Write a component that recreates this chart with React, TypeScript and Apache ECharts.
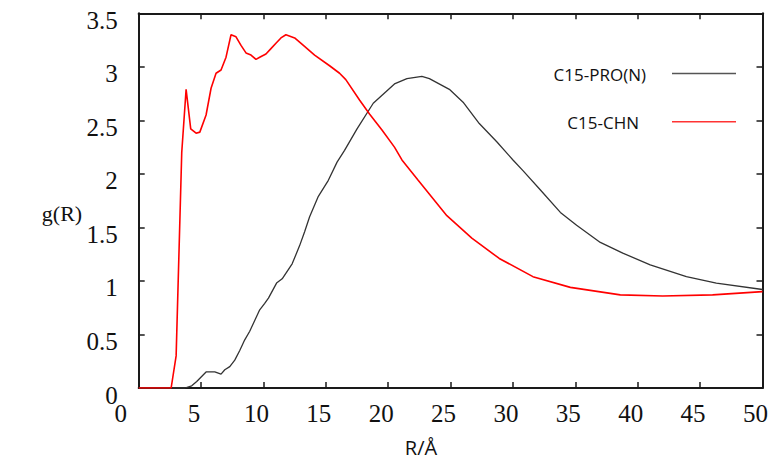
import React, { useEffect, useRef } from "react";
import * as echarts from "echarts";

const proR = [0, 3.7, 4.25, 4.65, 5.4, 6.1, 6.6, 6.9, 7.3, 7.7, 8.1, 8.5, 8.9, 9.3, 9.7, 10.1, 10.4, 11.05, 11.5, 12.3, 12.9, 13.3, 13.7, 14.4, 15.2, 15.9, 16.5, 17.5, 18.8, 20.5, 21.5, 22.7, 23.3, 24.9, 26.0, 27.3, 28.7, 30.0, 30.8, 32.2, 33.8, 35.1, 37.0, 38.8, 41.0, 43.9, 46.3, 50];
const proG = [0, 0, 0.02, 0.06, 0.15, 0.15, 0.13, 0.17, 0.2, 0.26, 0.35, 0.45, 0.53, 0.63, 0.73, 0.79, 0.84, 0.98, 1.02, 1.16, 1.33, 1.46, 1.6, 1.79, 1.94, 2.11, 2.22, 2.42, 2.66, 2.84, 2.89, 2.91, 2.89, 2.79, 2.67, 2.47, 2.3, 2.13, 2.03, 1.85, 1.64, 1.52, 1.36, 1.26, 1.15, 1.04, 0.98, 0.92];

const chnR = [0, 2.6, 3.0, 3.45, 3.8, 4.17, 4.6, 4.9, 5.4, 5.8, 6.2, 6.6, 7.0, 7.4, 7.8, 8.2, 8.6, 9.0, 9.4, 9.7, 10.2, 10.6, 11.0, 11.4, 11.8, 12.5, 13.2, 14.1, 15.3, 16.1, 16.6, 17.7, 18.5, 19.5, 20.5, 21.1, 22.4, 24.7, 26.7, 28.9, 31.6, 34.6, 38.6, 42.0, 46.0, 50];
const chnG = [0, 0, 0.3, 2.2, 2.79, 2.42, 2.38, 2.39, 2.55, 2.8, 2.94, 2.97, 3.09, 3.3, 3.28, 3.2, 3.13, 3.11, 3.07, 3.09, 3.12, 3.17, 3.22, 3.27, 3.3, 3.27, 3.2, 3.11, 3.01, 2.94, 2.88, 2.69, 2.56, 2.41, 2.25, 2.13, 1.94, 1.61, 1.4, 1.21, 1.04, 0.94, 0.87, 0.86, 0.87, 0.9];

const seriesNames = ["C15-PRO(N)", "C15-CHN"];
const xAxisTitle = "R/Å";
const yAxisTitle = "g(R)";

export default function App() {
  const ref = useRef<HTMLDivElement>(null);
  useEffect(() => {
    if (!ref.current) return;
    const chart = echarts.init(ref.current, null, { renderer: "svg" });
    const axisColor = "#1a1a1a";
    const serif = "'Liberation Serif', 'Times New Roman', serif";
    const sans = "'Open Sans', 'Noto Sans', sans-serif";
    const tickCommon = {
      inside: true,
      length: 6,
      lineStyle: { color: axisColor, width: 1.5 },
    };
    const lineCommon = { show: true, onZero: false, lineStyle: { color: axisColor, width: 2 } };
    chart.setOption({
      animation: false,
      backgroundColor: "#ffffff",
      grid: { left: 138.7, right: 8.5, top: 13.3, bottom: 73, containLabel: false },
      xAxis: [
        {
          type: "value",
          min: 0,
          max: 50,
          interval: 5,
          position: "bottom",
          axisLine: lineCommon,
          axisTick: tickCommon,
          splitLine: { show: false },
          axisLabel: {
            color: "#111",
            fontFamily: serif,
            fontSize: 25,
            margin: 13,
            padding: [0, 14, 0, 0],
            formatter: (v: number) => (v === 0 ? "{z|0}" : String(v)),
            rich: {
              z: {
                color: "#111",
                fontFamily: serif,
                fontSize: 25,
                padding: [0, 22, 0, 0],
              },
            },
          },
        },
        {
          type: "value",
          min: 0,
          max: 50,
          interval: 5,
          position: "top",
          axisLine: lineCommon,
          axisTick: tickCommon,
          splitLine: { show: false },
          axisLabel: { show: false },
        },
      ],
      yAxis: [
        {
          type: "value",
          min: 0,
          max: 3.5,
          interval: 0.5,
          position: "left",
          axisLine: lineCommon,
          axisTick: tickCommon,
          splitLine: { show: false },
          axisLabel: {
            color: "#111",
            fontFamily: serif,
            fontSize: 25,
            margin: 21,
            verticalAlign: "top",
            lineHeight: 14,
            formatter: (v: number) => String(Math.round(v * 10) / 10),
          },
        },
        {
          type: "value",
          min: 0,
          max: 3.5,
          interval: 0.5,
          position: "right",
          axisLine: lineCommon,
          axisTick: tickCommon,
          splitLine: { show: false },
          axisLabel: { show: false },
        },
      ],
      series: [
        {
          name: seriesNames[0],
          type: "line",
          symbol: "none",
          data: proR.map((r, i) => [r, proG[i]]),
          lineStyle: { color: "#333333", width: 1.3 },
          itemStyle: { color: "#333333" },
          z: 2,
        },
        {
          name: seriesNames[1],
          type: "line",
          symbol: "none",
          data: chnR.map((r, i) => [r, chnG[i]]),
          lineStyle: { color: "#ff0000", width: 1.6 },
          itemStyle: { color: "#ff0000" },
          z: 3,
        },
      ],
      graphic: [
        {
          type: "text",
          x: 62,
          y: 213,
          style: {
            text: yAxisTitle,
            font: `22px ${serif}`,
            fill: "#111",
            textAlign: "center",
            textVerticalAlign: "middle",
          },
        },
        {
          type: "text",
          x: 421,
          y: 447,
          style: {
            text: xAxisTitle,
            font: `20px ${sans}`,
            fill: "#111",
            textAlign: "center",
            textVerticalAlign: "middle",
          },
        },
        {
          type: "text",
          x: 646,
          y: 74,
          style: {
            text: seriesNames[0],
            font: `17px ${sans}`,
            fill: "#111",
            textAlign: "right",
            textVerticalAlign: "middle",
          },
        },
        {
          type: "text",
          x: 639,
          y: 122,
          style: {
            text: seriesNames[1],
            font: `17px ${sans}`,
            fill: "#111",
            textAlign: "right",
            textVerticalAlign: "middle",
          },
        },
        {
          type: "line",
          shape: { x1: 672, y1: 73.5, x2: 736, y2: 73.5 },
          style: { stroke: "#555555", lineWidth: 1.5 },
        },
        {
          type: "line",
          shape: { x1: 672, y1: 121.7, x2: 736, y2: 121.7 },
          style: { stroke: "#ff3333", lineWidth: 1.5 },
        },
      ],
    });
    return () => chart.dispose();
  }, []);
  return (
    <div
      ref={ref}
      style={{ position: "fixed", left: 0, top: 0, width: 771, height: 461 }}
    />
  );
}
